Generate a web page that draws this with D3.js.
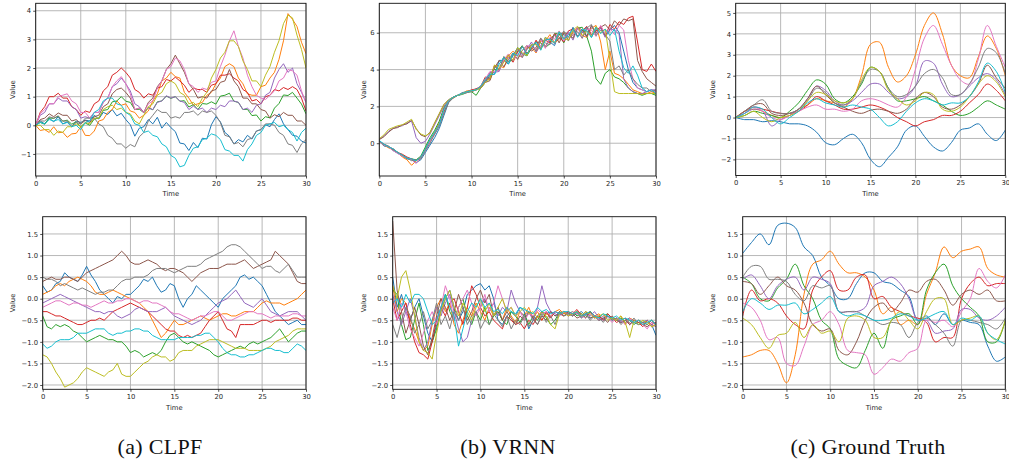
<!doctype html>
<html lang="en">
<head>
<meta charset="utf-8">
<title>CLPF / VRNN / Ground Truth</title>
<script src="https://d3js.org/d3.v7.min.js"></script>
<style>
  body { margin: 0; background: #fff; }
  svg { display: block; }
  .tick text { font-family: 'DejaVu Sans', sans-serif; font-size: 6.8px; fill: #262626; }
  .tick line { stroke: #262626; stroke-width: 0.8; }
  .domain { display: none; }
  .grid line { stroke: #b0b0b0; stroke-width: 0.9; }
  .frame { fill: none; stroke: #111; stroke-width: 0.9; }
  .axlabel { font-family: 'DejaVu Sans', sans-serif; font-size: 6.8px; fill: #262626; }
  .caption { font-family: 'Liberation Serif', 'Times New Roman', serif; font-size: 22px; fill: #111; letter-spacing: 0.3px; }
  .series { fill: none; stroke-width: 1; stroke-linejoin: round; }
</style>
</head>
<body>
<svg id="fig" width="1009" height="464"></svg>
<script>
// tab10
let colors = ['#1f77b4', '#ff7f0e', '#2ca02c', '#d62728', '#9467bd', '#8c564b', '#e377c2', '#7f7f7f', '#bcbd22', '#17becf']
let xTicks = [0, 5, 10, 15, 20, 25, 30]
let captions = ['(a) CLPF', '(b) VRNN', '(c) Ground Truth']

// each panel: 10 series, evenly spaced over time 0..30
let clpfTop = [
  [0,0.15,0.05,0.25,0.12,0.3,0.05,0.12,-0.05,0.15,0.1,0.18,0.15,0.35,0.22,0.45,0.38,0.55,0.33,0.42,0.2,0.02,-0.38,-0.1,-0.05,0.2,0.05,0.28,-0.1,0.1,-0.08,-0.22,-0.62,-0.65,-0.88,-0.6,-0.78,-0.45,-0.48,0.02,0.3,0.12,-0.25,-0.38,-0.65,-0.5,-0.58,-0.35,-0.48,-0.2,-0.15,0.02,-0.05,0.2,0.4,0.05,-0.15,-0.35,-0.38,-0.55,-0.62],
  [0,-0.18,-0.15,-0.25,-0.05,-0.26,-0.24,-0.42,-0.3,-0.28,-0.05,-0.35,-0.36,-0.2,0.15,0.2,0.45,0.55,0.85,0.7,0.75,0.5,0.45,0.25,0.35,0.5,0.85,1.1,1.55,1.65,1.85,1.7,1.65,1.15,0.95,0.7,0.75,0.8,1.05,1.15,1.45,1.65,2.05,2.15,2.05,1.65,1.45,1.1,1.05,1.05,1.35,1.4,1.65,1.85,2.3,2.95,3.9,3.7,3.45,2.9,2.5],
  [0,0.1,0.04,0.26,0.24,0.32,0.14,0.18,0.04,0.12,-0.05,0.08,0,0.22,0.25,0.52,0.55,0.82,0.85,1,0.84,0.8,0.55,0.56,0.44,0.62,0.54,0.82,0.85,1.02,0.94,1,0.84,0.86,0.64,0.72,0.55,0.76,0.74,0.82,0.74,1.02,1.05,1.12,0.84,0.8,0.55,0.56,0.34,0.36,0.15,0.3,0.26,0.6,0.76,1.06,1.04,1.15,0.95,0.74,0.4],
  [0,0.45,0.65,1,1,1.12,0.95,0.95,0.65,0.55,0.35,0.5,0.45,0.75,0.85,1.2,1.35,1.75,1.85,2,1.85,1.65,1.25,1.15,0.95,1.1,1.05,1.3,1.35,1.6,1.55,1.68,1.55,1.4,1.15,1.3,1.25,1.25,1.15,1.4,1.45,1.75,1.75,1.8,1.65,1.55,1.25,1.15,0.85,0.9,0.75,1,1.05,1.25,1.2,1.32,1.25,1.35,1.25,0.95,0.5],
  [0,0.35,0.45,0.75,0.75,0.95,0.85,0.85,0.65,0.55,0.25,0.3,0.25,0.45,0.45,0.8,0.95,1.35,1.45,1.65,1.45,1.2,0.75,0.65,0.45,0.6,0.55,0.8,0.85,1.03,0.95,1,0.85,0.8,0.55,0.67,0.55,0.6,0.45,0.6,0.55,0.7,0.65,0.85,0.85,0.8,0.55,0.6,0.45,0.7,0.75,1.05,1.15,1.65,1.95,2.15,1.85,2,1.45,1.15,0.8],
  [0,0.2,0.25,0.4,0.3,0.43,0.35,0.35,0.15,0.2,0.05,0.17,0.1,0.3,0.35,0.65,0.75,1.1,1.25,1.3,1.15,0.95,0.55,0.6,0.45,0.8,0.95,1.35,1.55,1.95,2.15,2.45,2.15,1.85,1.45,1.25,0.95,1,0.95,1.2,1.25,1.5,1.55,1.95,1.55,1.35,0.95,0.95,0.75,0.75,0.55,0.5,0.25,0.37,0.3,0.45,0.35,0.35,0.15,0.15,0],
  [0,0.4,0.55,0.75,0.75,1,1.05,1.1,0.85,0.75,0.45,0.45,0.25,0.45,0.45,0.8,0.95,1.35,1.55,1.7,1.45,1.1,0.55,0.6,0.45,0.75,0.85,1.3,1.55,1.95,2.05,2.35,2.25,1.95,1.45,1.35,1.15,1.3,1.25,1.5,1.55,2.05,2.45,2.95,3.3,2.75,2.35,1.75,1.35,1.05,0.95,0.9,1.05,1.2,1.55,1.65,1.95,1.9,1.75,1.2,0.8],
  [0,0.15,0.15,0.3,0.25,0.33,0.15,0.15,-0.05,0.1,0.05,0.25,0.25,0.25,0.05,-0.05,-0.35,-0.45,-0.65,-0.65,-0.8,-0.67,-0.75,-0.4,-0.25,0.15,0.35,0.55,0.45,0.45,0.25,0.3,0.25,0.45,0.45,0.5,0.35,0.5,0.45,0.5,0.35,0.1,-0.35,-0.4,-0.65,-0.6,-0.75,-0.5,-0.45,-0.2,-0.15,0.05,0.05,0,-0.25,-0.35,-0.65,-0.7,-0.95,-0.65,-0.5],
  [0,0,-0.15,-0.15,-0.35,-0.2,-0.25,-0.05,-0.05,0.05,-0.05,0.1,0.05,0.25,0.25,0.55,0.65,0.7,0.55,0.6,0.45,0.4,0.15,0.05,0.35,0.65,0.75,1.05,1.15,1.45,1.55,1.45,1.15,1.05,0.75,0.8,0.65,0.95,1.15,1.65,1.95,2.35,2.55,2.95,2.95,2.75,2.25,1.95,1.55,1.55,1.35,1.75,2.05,2.55,2.95,3.55,3.85,3.75,3.15,2.65,2],
  [0,0.1,0.05,0.2,0.15,0.2,0.05,0.1,-0.05,0,-0.15,0.1,0.15,0.45,0.55,0.85,0.95,0.95,0.75,0.7,0.45,0.35,0.05,0,-0.25,-0.2,-0.35,-0.4,-0.65,-0.75,-1.05,-1.15,-1.45,-1.4,-1.05,-0.8,-0.75,-0.5,-0.45,-0.3,-0.35,-0.5,-0.85,-0.9,-1.05,-1.05,-1.25,-0.85,-0.65,-0.35,-0.25,0,0.05,0.1,-0.05,0,-0.15,-0.25,-0.55,-0.25,-0.1]
]

let vrnnTop = [
  [0.1,-0.15,-0.2,-0.4,-0.55,-0.7,-0.85,-0.9,-1.05,-0.9,-0.5,-0.1,0.3,0.8,1.5,2.2,2.5,2.6,2.75,2.8,2.85,2.95,3,3.3,3.7,3.75,4.5,4.5,4.3,4.75,5.2,4.85,4.75,5.35,5.4,5.15,5.75,5.5,5.3,6,5.9,5.75,6.3,5.8,6,6.3,5.75,6.2,6.25,5.8,6.15,6.4,6,5,4,3.3,3,2.9,2.8,2.9,2.8],
  [0.1,-0.1,-0.25,-0.35,-0.5,-0.75,-0.9,-1.2,-0.95,-0.8,-0.3,0.2,0.6,1.1,1.9,2.3,2.45,2.6,2.7,2.85,2.8,2.9,3.05,3.5,3.45,4.2,4.2,4.1,4.75,5,4.75,4.7,5.2,5.2,4.9,5.55,5.55,5.9,5.45,5.65,6.05,5.6,6,6.3,5.85,5.75,6.25,6.4,5.5,4,5,3.8,3.7,3.5,3.2,2.9,2.8,2.7,2.7,2.8,2.7],
  [0.15,-0.1,-0.2,-0.35,-0.5,-0.65,-0.8,-0.85,-0.9,-0.7,-0.2,0.3,0.7,1.2,1.9,2.3,2.5,2.6,2.65,2.75,2.8,2.6,3,3.4,3.8,4,3.95,4.7,4.45,4.5,5,5.3,4.75,5.15,5.5,5.45,5.2,5.4,5.95,5.95,5.45,6,5.85,6.25,6.3,5.8,5,3.5,3.2,3.8,4,3.6,3.5,3.3,3,2.8,2.7,2.6,2.7,2.7,2.6],
  [0.1,-0.05,-0.2,-0.3,-0.5,-0.6,-0.75,-0.85,-0.95,-0.75,-0.35,0.1,0.5,1,1.7,2.25,2.5,2.6,2.7,2.8,2.9,2.95,3.1,3.6,3.5,4.25,4,4.45,4.8,4.4,4.95,5.25,4.9,5.1,5.6,5.1,5.6,5.45,5.95,5.75,5.5,6.1,6.2,5.8,6.1,6.35,5.9,6.1,6.35,5.8,6.45,6.2,6.6,6.45,6.8,6.9,5.5,4,3.9,4.3,3.9],
  [0.2,0.4,0.65,0.8,0.9,0.95,1.1,1.2,0.3,0,0.1,0.5,1,1.5,2,2.35,2.5,2.6,2.7,2.75,2.85,2.9,3,3.4,3.85,3.85,3.9,4.6,4.65,4.5,5.15,4.8,5.1,5.5,4.95,5.3,5.65,5.65,5.4,6.05,5.7,6.05,5.6,6.25,6.05,5.8,6.35,5.95,6.25,5.75,6.2,6.15,5.9,3.5,3,2.8,2.7,2.7,2.8,2.9,2.9],
  [0.2,0.35,0.6,0.8,0.85,1,1.05,1.25,0.8,0.45,0.35,0.6,1.1,1.6,2.1,2.35,2.5,2.6,2.7,2.8,2.85,2.9,3,3.3,3.4,4.1,4.5,4.15,4.55,4.9,4.55,5.05,5.3,5,5.2,5.7,5.25,5.65,5.9,5.45,6,5.95,5.7,6.3,6.15,5.8,6.4,6,6.3,6.45,6.15,6.65,6.4,6.75,6.65,6.75,4.5,3.9,3.5,3.3,3.1],
  [0.1,-0.1,-0.2,-0.4,-0.55,-0.7,-0.8,-0.9,-1.1,-0.8,-0.4,0.1,0.5,1,1.8,2.3,2.5,2.6,2.7,2.8,2.85,2.9,3.1,3.5,3.9,3.9,3.95,4.55,4.85,4.5,4.9,4.65,5.3,5.25,5.1,5.65,5.15,5.75,5.65,6.1,5.55,6,5.85,6.3,5.7,6.2,6.15,5.8,6.4,5.95,6.25,5.9,6.4,6.15,4.5,3.5,3,2.9,2.8,2.9,2.8],
  [0.1,-0.05,-0.15,-0.35,-0.5,-0.65,-0.8,-0.95,-0.9,-0.85,-0.4,0,0.5,0.9,1.6,2.2,2.45,2.6,2.7,2.8,2.8,2.9,3.05,3.4,3.6,4.15,4,4.7,4.4,4.8,5.15,4.65,5.1,5.35,5,5.7,5.45,5.35,5.9,5.65,6.1,5.55,6.1,6.05,5.7,6.25,6.45,5.85,6.15,5.9,5.55,4,4.2,3.7,4,3.5,3.2,3,3,2.8,2.9],
  [0.25,0.45,0.75,0.85,0.95,1,1.15,1.3,0.75,0.5,0.4,0.55,1.1,1.6,2.1,2.35,2.5,2.6,2.7,2.8,2.85,2.9,3,3.3,3.5,4.25,4.05,4.4,4.8,4.5,5.2,4.9,4.75,5.35,5.35,5.1,5.75,5.6,5.45,6.05,5.7,5.6,6.15,6.35,5.85,6.1,5.8,6.35,6,6.2,4.5,2.8,2.7,2.7,2.7,2.7,2.7,2.65,2.7,2.7,2.7],
  [0.15,-0.05,-0.2,-0.3,-0.5,-0.65,-0.8,-0.85,-0.95,-0.75,-0.3,0.2,0.6,1,1.8,2.3,2.5,2.6,2.7,2.8,2.85,2.9,3.1,3.5,3.75,3.75,4.3,4.65,4.3,4.9,4.75,5.25,4.85,5.2,5.5,5.05,5.6,5.65,5.45,6.05,5.65,5.9,6.2,5.75,6.2,6.1,5.75,6.3,5.95,6.2,5.85,6.2,5,4.1,3.8,4.2,3.7,3,2.8,2.9,2.7]
]

let truthTop = [
  [0,-0.1,-0.1,-0.2,-0.15,-0.2,-0.3,-0.3,-0.4,-0.7,-1.2,-1.3,-1,-0.8,-1.2,-2,-2.35,-1.9,-1.4,-0.6,-0.4,-0.9,-1.4,-1.6,-1.2,-0.6,-0.5,-0.3,-0.8,-1.1,-0.6],
  [0,0.3,0.4,0.3,0.1,0,0.1,0.4,0.6,0.9,0.8,0.7,0.5,0.9,2,3.5,3.6,2.4,1.7,2,3,4.4,5,4,2.5,2,1.9,2.9,3.9,3.3,2],
  [0,0.1,0.3,0.2,0.1,0,0.3,0.7,1.3,1.8,1.6,0.9,0.7,1,1.6,2.4,2.2,1.4,0.8,0.8,0.9,1,0.8,0.6,0.3,0.1,0.2,0.5,0.8,0.6,0.4],
  [0,0.3,0.5,0.4,0.3,0.2,0.2,0.3,0.6,1,0.8,0.6,0.4,0.4,0.5,0.6,0.5,0.3,0,-0.2,-0.4,-0.2,-0.1,0.1,0.1,0.3,0.7,1.1,1.6,1.3,0.8],
  [0,0.2,0.4,0.3,-0.4,-0.1,0.1,0.4,0.9,1.5,1.3,0.8,0.6,0.8,1.2,1.6,1.6,1.2,0.9,1,1.5,2.7,2.6,1.6,1,1.1,1.5,1.9,2.1,1.8,1.1],
  [0,0.3,0.6,0.65,0.2,0.1,0.2,0.4,0.9,1.5,1.1,0.7,0.5,0.3,0.2,0.35,0.4,0.3,0.2,0.4,0.9,1.2,1,0.5,0.4,0.6,1,1.6,2.5,1.9,1.4],
  [0,0.2,0.5,0.3,0,-0.1,0.1,0.3,0.5,0.6,0.4,0.4,0.3,0.4,0.8,0.9,0.8,0.6,0.5,1,2.3,3.8,4.4,3.5,2.5,1.8,1.6,2.8,4.4,3.4,2.4],
  [0,0.3,0.6,0.85,0.3,0.2,0.2,0.4,0.8,1.4,1.2,0.7,0.6,0.9,1.7,2.3,2.2,1.4,1,1.1,1.5,2.1,2.3,1.9,1.1,1.1,1.6,2.4,3.3,3.1,2.1],
  [0,0.1,0.3,0,-0.2,0,0.1,0.3,0.8,1.2,1.1,0.8,0.7,0.9,1.8,2.4,2.2,1.3,0.9,0.6,0.8,1.2,1.1,0.4,0.3,0.5,1,1.6,2,1.7,1],
  [0,0.2,0.5,0.4,0,-0.3,0,0.3,0.7,0.9,0.7,0.6,0.5,0.6,0.5,0.4,0,-0.4,-0.2,0.3,0.7,0.9,0.8,0.6,0.7,0.7,1,1.7,2.6,2.2,1.2]
]

let clpfBottom = [
  [0.3,0.15,0.2,0.35,0.4,0.6,0.5,0.45,0.4,0.55,0.75,0.55,0.4,0.2,0.1,0,-0.1,0.05,0,0.1,0.1,0.2,0.3,0.45,0.4,0.5,0.3,0.15,0.2,0.35,0.3,0,-0.2,0,0.1,0.3,0.2,0.1,0,-0.1,-0.2,0,0.1,0.2,0.3,0.5,0.55,0.45,0.5,0.4,0.3,0.1,-0.1,-0.3,-0.4,-0.5,-0.6,-0.55,-0.5,-0.6,-0.6],
  [0.1,0.15,0.2,0.3,0.35,0.3,0.4,0.45,0.5,0.45,0.4,0.3,0.15,0.1,0.1,0.15,0.2,0.15,0.1,0.05,0,-0.05,-0.1,-0.2,-0.3,-0.5,-0.7,-0.9,-0.8,-0.65,-0.5,-0.6,-0.6,-0.55,-0.5,-0.45,-0.4,-0.45,-0.5,-0.45,-0.4,-0.35,-0.35,-0.4,-0.4,-0.35,-0.3,-0.3,-0.3,-0.2,-0.1,-0.05,-0.1,-0.1,-0.1,-0.15,-0.1,-0.05,0,0.1,0.2],
  [-0.4,-0.65,-0.7,-0.6,-0.65,-0.6,-0.65,-0.75,-0.8,-0.9,-1,-0.95,-0.9,-0.85,-0.9,-0.95,-0.95,-1,-1,-1.1,-1.25,-1.2,-1.25,-1.35,-1.3,-1.25,-1.3,-1.2,-1,-0.85,-0.8,-0.9,-1,-1.05,-1,-1.05,-1.1,-1.15,-1.2,-1.3,-1.35,-1.3,-1.25,-1.2,-1.15,-1.1,-1.15,-1.05,-1,-1.05,-1,-0.95,-0.9,-0.8,-0.7,-0.85,-1,-0.9,-0.8,-0.75,-0.75],
  [-0.3,-0.3,-0.35,-0.4,-0.4,-0.45,-0.5,-0.55,-0.6,-0.6,-0.55,-0.5,-0.5,-0.45,-0.5,-0.4,-0.3,-0.25,-0.2,-0.15,-0.1,-0.15,-0.2,-0.25,-0.3,-0.4,-0.5,-0.6,-0.7,-0.75,-0.75,-0.85,-0.9,-0.85,-0.9,-0.85,-0.8,-0.65,-0.5,-0.4,-0.3,-0.5,-0.7,-0.75,-0.9,-0.6,-0.6,-0.6,-0.6,-0.55,-0.5,-0.5,-0.55,-0.5,-0.5,-0.5,-0.5,-0.45,-0.45,-0.5,-0.5],
  [-0.1,-0.05,0,0.05,0.1,0.05,0,-0.05,-0.1,-0.15,-0.2,-0.25,-0.3,-0.3,-0.35,-0.3,-0.3,-0.4,-0.45,-0.4,-0.35,-0.25,-0.2,-0.25,-0.3,-0.3,-0.3,-0.25,-0.2,-0.3,-0.4,-0.45,-0.5,-0.55,-0.6,-0.55,-0.5,-0.4,-0.3,-0.2,-0.1,-0.05,0,0.1,0.2,0.05,-0.1,-0.15,-0.2,-0.1,0,-0.15,-0.3,-0.35,-0.4,-0.35,-0.3,-0.3,-0.3,-0.4,-0.5],
  [0.4,0.45,0.5,0.45,0.45,0.5,0.5,0.45,0.4,0.5,0.6,0.65,0.7,0.75,0.8,0.85,0.9,1,1.1,1,0.85,0.8,0.8,0.85,0.9,0.85,0.8,0.7,0.65,0.7,0.7,0.65,0.6,0.5,0.4,0.5,0.6,0.65,0.7,0.7,0.7,0.75,0.8,0.8,0.8,0.85,0.9,0.8,0.7,0.75,0.8,0.85,0.9,1.1,1,0.9,0.8,0.6,0.4,0.35,0.35],
  [-0.2,-0.15,-0.1,-0.05,-0.05,-0.1,-0.15,-0.1,-0.1,-0.15,-0.15,-0.2,-0.15,-0.1,-0.05,-0.1,-0.1,-0.05,-0.05,0,0,-0.05,-0.1,-0.05,-0.05,-0.1,-0.1,-0.15,-0.2,-0.3,-0.35,-0.35,-0.4,-0.45,-0.5,-0.45,-0.4,-0.4,-0.35,-0.3,-0.3,-0.4,-0.5,-0.5,-0.45,-0.4,-0.35,-0.3,-0.3,-0.35,-0.35,-0.4,-0.45,-0.4,-0.4,-0.4,-0.4,-0.35,-0.35,-0.4,-0.4],
  [0.5,0.45,0.45,0.4,0.3,0.35,0.3,0.25,0.2,0.25,0.2,0.15,0.1,0.15,0.15,0.2,0.2,0.3,0.4,0.45,0.45,0.5,0.5,0.5,0.55,0.65,0.7,0.7,0.7,0.65,0.6,0.65,0.7,0.75,0.75,0.75,0.8,0.9,0.95,1,1.05,1.1,1.2,1.25,1.25,1.2,1.1,1,0.9,0.8,0.7,0.75,0.75,0.65,0.6,0.7,0.8,0.65,0.5,0.5,0.5],
  [-1.3,-1.35,-1.5,-1.7,-1.85,-2.05,-2,-1.95,-1.85,-1.7,-1.6,-1.65,-1.7,-1.75,-1.8,-1.7,-1.65,-1.5,-1.75,-1.8,-1.8,-1.7,-1.6,-1.5,-1.45,-1.35,-1.3,-1.35,-1.35,-1.45,-1.4,-1.25,-1.2,-1.2,-1.2,-1.1,-1.05,-1,-0.95,-0.95,-0.95,-1,-1.05,-1.1,-1.15,-1.15,-1.15,-1.2,-1.2,-1.2,-1.2,-1.15,-1.1,-1,-0.95,-0.9,-0.85,-0.75,-0.7,-0.7,-0.7],
  [-1.05,-1.15,-1.1,-1,-0.95,-0.95,-0.95,-0.9,-0.8,-0.8,-0.8,-0.75,-0.7,-0.7,-0.7,-0.8,-0.85,-0.8,-0.8,-0.75,-0.75,-0.7,-0.7,-0.75,-0.75,-0.85,-0.9,-0.95,-0.95,-0.95,-0.95,-0.9,-0.9,-0.9,-0.9,-0.85,-0.85,-0.8,-0.8,-0.9,-1,-1.15,-1.25,-1.3,-1.3,-1.35,-1.35,-1.3,-1.3,-1.25,-1.2,-1.15,-1.15,-1.2,-1.2,-1.25,-1.25,-1.15,-1.05,-1.1,-1.2]
]

let vrnnBottom = [
  [0.5,-0.2,0.1,-0.3,-0.5,-0.2,0,-0.4,-0.8,-1,-0.6,-0.3,0,0.2,-0.2,-0.5,-0.3,0.1,0.2,0.3,0.35,0.2,0.3,0,-0.5,-0.6,-0.4,-0.3,-0.4,-0.2,-0.3,-0.7,-0.5,-0.4,-0.3,-0.35,-0.3,-0.4,-0.3,-0.35,-0.3,-0.4,-0.35,-0.3,-0.4,-0.45,-0.4,-0.5,-0.45,-0.4,-0.5,-0.45,-0.55,-0.5,-0.45,-0.55,-0.6,-0.55,-0.5,-0.6,-0.85],
  [0.3,-0.3,0,-0.1,-0.5,-0.7,-1,-1.2,-1.1,-0.6,-0.2,0,-0.3,-0.1,-0.6,-0.8,-0.5,-0.2,-0.4,-0.1,-0.3,-0.5,-0.2,-0.4,-0.3,-0.5,-0.2,-0.4,-0.55,-0.3,-0.4,-0.2,-0.45,-0.3,-0.5,-0.35,-0.4,-0.3,-0.25,-0.35,-0.3,-0.4,-0.3,-0.35,-0.45,-0.3,-0.4,-0.35,-0.5,-0.4,-0.45,-0.5,-0.4,-0.6,-0.45,-0.5,-0.55,-0.6,-0.5,-0.65,-0.6],
  [0.2,0.1,-0.6,-0.95,-0.9,-0.5,-0.1,-0.6,-1.2,-1,-0.7,-0.2,0.1,-0.3,-0.5,-0.2,0,-0.4,-0.6,-0.3,-0.5,-0.2,-0.6,-0.4,-0.3,-0.5,-0.6,-0.3,-0.4,-0.55,-0.35,-0.6,-0.4,-0.5,-0.3,-0.45,-0.6,-0.5,-0.3,-0.4,-0.35,-0.3,-0.4,-0.35,-0.45,-0.3,-0.4,-0.5,-0.4,-0.35,-0.45,-0.5,-0.45,-0.55,-0.5,-0.6,-0.5,-0.55,-0.6,-0.5,-0.6],
  [0,-0.5,-0.3,-0.1,-0.6,-1,-1.25,-1.3,-1.4,-1,-0.5,-0.2,-0.4,-0.1,0,-0.3,-0.6,-0.2,0.3,0.1,-0.2,-0.4,-0.3,-0.5,-0.6,-0.7,-0.4,-0.5,-0.6,-0.55,-0.7,-0.5,-0.6,-0.4,-0.5,-0.3,-0.45,-0.3,-0.35,-0.4,-0.3,-0.35,-0.25,-0.4,-0.35,-0.3,-0.45,-0.4,-0.5,-0.35,-0.45,-0.55,-0.5,-0.45,-0.6,-0.5,-0.55,-0.65,-0.5,-0.6,-0.55],
  [0.1,-0.3,-0.6,-0.3,0,-0.4,-0.9,-1.2,-1,-0.5,-0.2,-0.4,-0.1,0.1,-0.3,-0.7,-1,-0.9,-0.5,-0.3,-0.2,0,-0.3,-0.1,-0.4,-0.2,-0.3,0.2,-0.1,-0.3,-0.4,-0.3,-0.5,-0.2,0.3,-0.1,-0.3,-0.35,-0.4,-0.3,-0.35,-0.4,-0.3,-0.45,-0.35,-0.4,-0.3,-0.45,-0.5,-0.4,-0.5,-0.45,-0.55,-0.5,-0.6,-0.5,-0.6,-0.55,-0.5,-0.6,-0.65],
  [1.8,0.2,-0.3,-0.8,-0.5,-0.2,-0.6,-1.1,-1.3,-0.9,-0.4,0,-0.2,-0.5,-0.3,0.1,-0.2,-0.5,-0.3,0,0.2,-0.1,0.1,-0.4,-0.2,-0.5,-0.3,-0.45,-0.6,-0.4,-0.5,-0.3,-0.45,-0.6,-0.4,-0.5,-0.3,-0.4,-0.35,-0.3,-0.4,-0.35,-0.45,-0.4,-0.3,-0.45,-0.4,-0.5,-0.45,-0.55,-0.4,-0.5,-0.55,-0.5,-0.6,-0.5,-0.55,-0.6,-0.65,-0.55,-0.6],
  [-0.2,-0.5,-0.1,-0.3,-0.7,-0.9,-1.1,-0.8,-0.5,-0.3,-0.6,-0.2,0.3,0,-0.5,-0.2,0,0.2,-0.1,-0.4,-0.2,0.1,-0.3,-0.1,0.3,0,-0.3,-0.2,-0.4,-0.3,-0.5,-0.35,-0.4,-0.25,-0.35,-0.3,-0.4,-0.3,-0.35,-0.3,-0.4,-0.3,-0.35,-0.4,-0.45,-0.35,-0.4,-0.5,-0.4,-0.45,-0.55,-0.45,-0.5,-0.6,-0.45,-0.55,-0.5,-0.6,-0.7,-0.55,-0.6],
  [-0.6,-0.9,-0.5,-0.2,-0.4,-0.8,-0.6,-0.3,-0.7,-0.5,-0.1,-0.6,-0.4,-0.7,-0.3,-0.5,-0.2,-0.6,-0.4,-0.3,-0.7,-0.5,-0.6,-0.35,-0.5,-0.65,-0.4,-0.7,-0.5,-0.6,-0.4,-0.65,-0.5,-0.6,-0.35,-0.55,-0.4,-0.6,-0.3,-0.4,-0.35,-0.4,-0.3,-0.45,-0.35,-0.5,-0.4,-0.45,-0.55,-0.4,-0.5,-0.45,-0.6,-0.5,-0.55,-0.45,-0.6,-0.55,-0.6,-0.5,-0.6],
  [0.3,0,0.5,0.65,0.2,-0.4,-1,-1.2,-1.25,-1.4,-0.8,-0.3,0,0.2,-0.2,-0.4,-0.1,-0.3,-0.5,-0.2,0,-0.3,-0.1,-0.4,-0.2,0,-0.3,-0.2,-0.4,-0.3,-0.2,-0.35,-0.3,-0.45,-0.3,-0.4,-0.6,-0.7,-0.35,-0.3,-0.4,-0.35,-0.3,-0.4,-0.3,-0.35,-0.45,-0.4,-0.35,-0.5,-0.45,-0.5,-0.4,-0.55,-0.9,-0.5,-0.6,-0.5,-0.55,-0.65,-0.6],
  [-0.1,0,-0.2,0.1,-0.1,0.1,0.1,0,-0.3,-0.6,-0.5,-0.2,0.1,-0.2,-0.4,-1.1,-0.7,-0.3,-0.1,-0.2,0,-0.2,-0.1,-0.3,-0.25,-0.35,-0.2,-0.3,-0.35,-0.2,-0.25,-0.3,-0.35,-0.2,-0.3,-0.25,-0.35,-0.3,-0.35,-0.3,-0.3,-0.35,-0.3,-0.4,-0.35,-0.3,-0.4,-0.45,-0.35,-0.4,-0.45,-0.4,-0.5,-0.45,-0.5,-0.55,-0.5,-0.6,-0.55,-0.5,-0.6]
]

let truthBottom = [
  [1.05,1.3,1.5,1.25,1.7,1.75,1.65,1.2,1,0.5,0.3,0,0,0.35,0.6,0.6,0.4,0.35,0.2,0.05,-0.5,-0.4,-0.6,-0.35,-0.6,-0.5,-0.55,-0.6,-1.1,-1.45,-1.35],
  [-1.35,-1.3,-1.2,-1.2,-1.5,-1.95,-1.3,0.1,0.8,0.9,1.1,0.8,0.6,0.6,0.5,0.2,-0.35,-0.2,-0.6,-0.5,-0.6,0.1,0.6,1.2,0.95,1.1,1.15,1.2,0.7,0.55,0.5],
  [0.5,0.35,0,-0.05,0.25,0.45,0.8,0.3,0,-0.5,-0.7,-1.4,-1.55,-1.6,-1.2,-0.8,-1.15,-0.5,-0.4,-0.35,-0.6,0.2,0.6,0.8,0.3,0,-0.2,-0.4,-1,-1,-0.5],
  [-0.4,0.2,-0.05,0,-0.1,-0.4,-0.6,-0.7,0.2,0.5,0.65,0.2,0.2,0.5,0.55,0,0.05,-0.2,-0.3,-0.4,-0.45,-0.55,-1,-0.9,-0.9,0,0.35,0.5,0.3,0.35,0.35],
  [0.45,0.55,0.3,0,0.3,0.45,0.5,0.2,0.5,0.45,0.35,-0.3,-0.3,-0.3,-0.2,0.3,0.4,0.5,0.35,0,-0.5,-0.5,-0.8,-0.75,-0.7,-0.25,-0.25,-0.45,-0.5,-0.4,-0.2],
  [0.4,0.35,0.1,0.3,0.5,0.3,0.2,-0.1,-0.6,-0.75,-0.7,-1.2,-1.3,-1,-0.5,-0.2,-0.1,-0.3,-0.1,0.2,0.15,0.4,0.45,0.2,-0.15,0.1,0.2,0.1,0.2,-0.05,-0.05],
  [-0.1,-0.2,-0.5,-0.95,-0.9,-1.5,-1.55,-1.1,-0.6,-0.5,-0.3,-0.6,-1.2,-1.25,-1.3,-1.75,-1.6,-1.4,-1.45,-1.25,-1.15,-0.5,-0.55,-0.5,-0.65,-0.3,0,0.7,0.4,0.25,0.55],
  [0.5,0.75,0.75,0.45,0.45,0.4,0.1,-0.05,0.3,0.25,0.3,-0.3,-0.3,-0.3,-0.4,-0.5,-0.6,-0.55,-0.6,-0.9,-0.55,-0.45,-0.6,-0.8,-1.1,-0.5,-0.5,-0.55,-0.6,-0.7,-0.45],
  [-0.45,-0.6,-0.9,-1.15,-0.85,-0.8,-0.55,-0.9,-0.6,-0.8,-0.75,-1,-0.45,-0.4,-0.5,-0.9,-0.9,-0.5,-0.3,-0.5,-0.7,-0.3,0,0,-0.6,-0.5,-0.45,-0.4,-0.8,-0.95,-0.5],
  [-0.3,0,-0.1,-0.25,-0.15,-0.15,-0.1,-0.35,-0.25,-0.1,0.05,-0.3,-0.4,-0.35,-0.4,-0.5,-0.5,-0.45,-0.35,-0.4,-0.5,-0.45,-0.35,-0.3,-0.6,-0.45,-0.5,-0.4,-0.8,-0.95,-1.05]
]

let topYTicksA = [-1, 0, 1, 2, 3, 4]
let topYTicksB = [0, 2, 4, 6]
let topYTicksC = [-2, -1, 0, 1, 2, 3, 4, 5]
let bottomYTicks = [-2, -1.5, -1, -0.5, 0, 0.5, 1, 1.5]

// layout (pixels)
let panels = [
  {data: clpfTop, left: 35.7, right: 306, top: 3.3, bottom: 176, ymin: -1.77, ymax: 4.26, yticks: topYTicksA, fmt: 'd', labelX: 12.5, timeY: 196, smooth: false},
  {data: vrnnTop, left: 379.3, right: 656, top: 3.3, bottom: 176, ymin: -1.78, ymax: 7.6, yticks: topYTicksB, fmt: 'd', labelX: 363, timeY: 196, smooth: false},
  {data: truthTop, left: 735.7, right: 1005.3, top: 3.3, bottom: 175.5, ymin: -2.77, ymax: 5.46, yticks: topYTicksC, fmt: 'd', labelX: 712.5, timeY: 196, smooth: true},
  {data: clpfBottom, left: 42.7, right: 306, top: 216.7, bottom: 389.3, ymin: -2.1, ymax: 1.9, yticks: bottomYTicks, fmt: '.1f', labelX: 12.5, timeY: 410, smooth: false},
  {data: vrnnBottom, left: 392.7, right: 656, top: 216.7, bottom: 389.3, ymin: -2.1, ymax: 1.9, yticks: bottomYTicks, fmt: '.1f', labelX: 363, timeY: 410, smooth: false},
  {data: truthBottom, left: 742.7, right: 1005.3, top: 216.7, bottom: 389.3, ymin: -2.1, ymax: 1.9, yticks: bottomYTicks, fmt: '.1f', labelX: 712.5, timeY: 410, smooth: true}
]
let captionX = [160, 508, 868]

let svg = d3.select('#fig')

function drawPanel(p, k) {
  let x = d3.scaleLinear().domain([0, 30]).range([p.left, p.right])
  let y = d3.scaleLinear().domain([p.ymin, p.ymax]).range([p.bottom, p.top])
  let g = svg.append('g')

  // grid
  let grid = g.append('g').attr('class', 'grid')
  grid.selectAll('.gx').data(xTicks).enter().append('line')
    .attr('x1', d => x(d)).attr('x2', d => x(d))
    .attr('y1', p.top).attr('y2', p.bottom)
  grid.selectAll('.gy').data(p.yticks).enter().append('line')
    .attr('x1', p.left).attr('x2', p.right)
    .attr('y1', d => y(d)).attr('y2', d => y(d))

  // lines, clipped to the axes box
  let clipId = 'clip' + k
  g.append('clipPath').attr('id', clipId)
    .append('rect')
    .attr('x', p.left).attr('y', p.top)
    .attr('width', p.right - p.left).attr('height', p.bottom - p.top)

  let line = d3.line()
    .x((d, i, arr) => x(i * 30 / (arr.length - 1)))
    .y(d => y(d))
  if (p.smooth) line.curve(d3.curveCatmullRom.alpha(0.5))

  g.append('g').attr('clip-path', `url(#${clipId})`)
    .selectAll('path')
    .data(p.data)
    .enter().append('path')
      .attr('class', 'series')
      .attr('stroke', (d, i) => colors[i])
      .attr('d', d => line(d))

  // axes
  g.append('g')
    .attr('transform', `translate(0,${p.bottom})`)
    .call(d3.axisBottom(x).tickValues(xTicks).tickSize(2.5).tickPadding(2.2).tickFormat(d3.format('d')))
  g.append('g')
    .attr('transform', `translate(${p.left},0)`)
    .call(d3.axisLeft(y).tickValues(p.yticks).tickSize(2.5).tickPadding(2.2).tickFormat(d3.format(p.fmt)))

  g.append('rect').attr('class', 'frame')
    .attr('x', p.left).attr('y', p.top)
    .attr('width', p.right - p.left).attr('height', p.bottom - p.top)

  g.append('text').attr('class', 'axlabel')
    .attr('x', (p.left + p.right) / 2).attr('y', p.timeY)
    .attr('text-anchor', 'middle')
    .text('Time')
  g.append('text').attr('class', 'axlabel')
    .attr('transform', `translate(${p.labelX + 2.5},${(p.top + p.bottom) / 2}) rotate(-90)`)
    .attr('text-anchor', 'middle')
    .text('Value')
}

panels.forEach(drawPanel)

svg.selectAll('.caption')
  .data(captions)
  .enter().append('text')
    .attr('class', 'caption')
    .attr('x', (d, i) => captionX[i])
    .attr('y', 454)
    .attr('text-anchor', 'middle')
    .text(d => d)
</script>
</body>
</html>
